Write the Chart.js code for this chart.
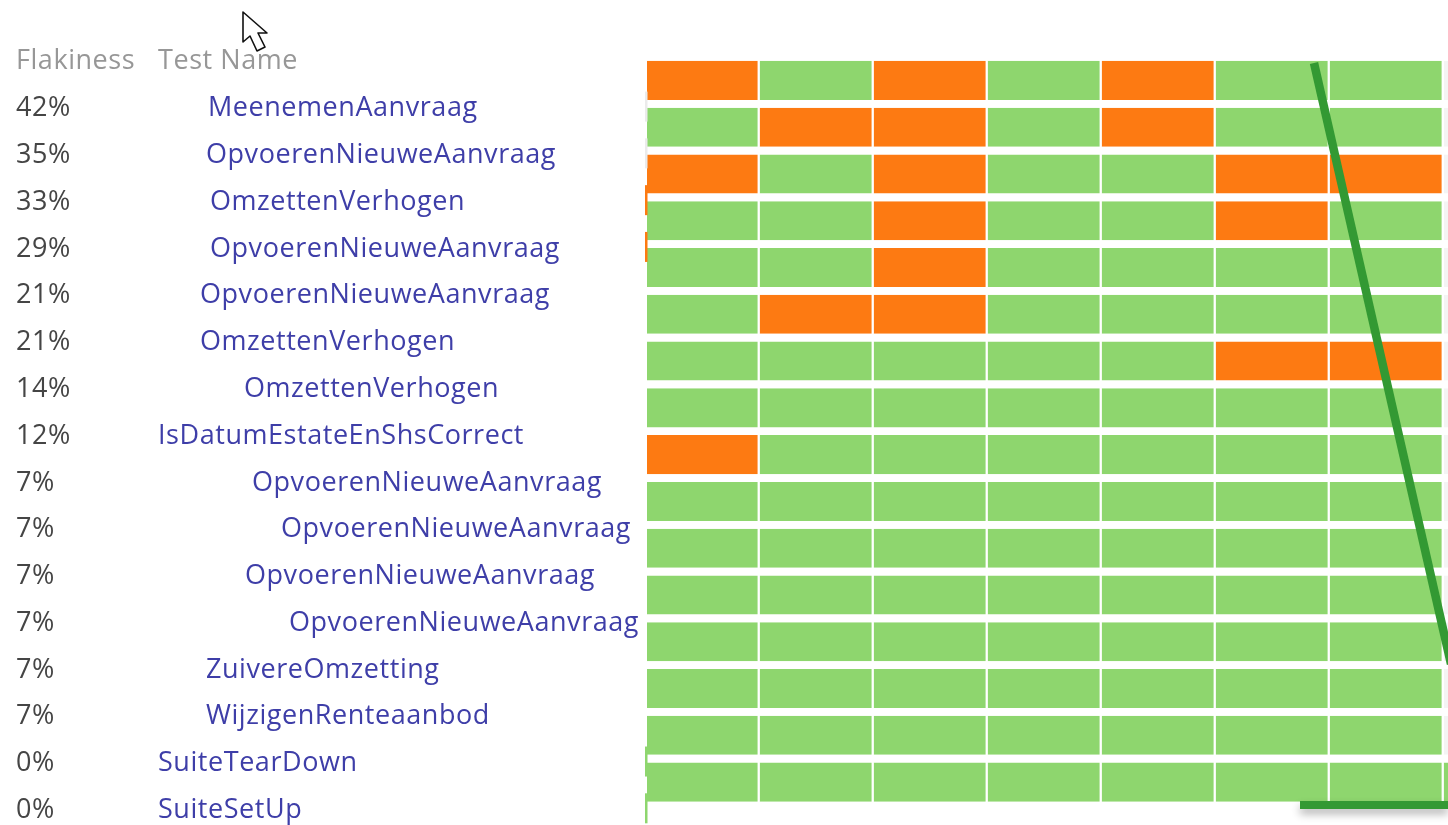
<!DOCTYPE html>
<html><head><meta charset="utf-8">
<style>html,body{margin:0;padding:0;background:#fff;overflow:hidden}#w{width:1448px;height:825px}canvas{filter:blur(.45px)}</style>
<script src="https://cdn.jsdelivr.net/npm/chart.js@4"></script></head><body><div id="w"><canvas id="c" width="1448" height="825"></canvas></div>
<script>
const flakiness=[42,35,33,29,21,21,14,12,7,7,7,7,7,7,0,0];
const testNames=["MeenemenAanvraag","OpvoerenNieuweAanvraag","OmzettenVerhogen","OpvoerenNieuweAanvraag","OpvoerenNieuweAanvraag","OmzettenVerhogen","OmzettenVerhogen","IsDatumEstateEnShsCorrect","OpvoerenNieuweAanvraag","OpvoerenNieuweAanvraag","OpvoerenNieuweAanvraag","OpvoerenNieuweAanvraag","ZuivereOmzetting","WijzigenRenteaanbod","SuiteTearDown","SuiteSetUp"];
// status per run: f = failed, p = passed, n = not run
const run1=["f","p","f","p","p","p","p","p","f","p","p","p","p","p","p","p"];
const run2=["p","f","p","p","p","f","p","p","p","p","p","p","p","p","p","p"];
const run3=["f","f","f","f","f","f","p","p","p","p","p","p","p","p","p","p"];
const run4=["p","p","p","p","p","p","p","p","p","p","p","p","p","p","p","p"];
const run5=["f","f","p","p","p","p","p","p","p","p","p","p","p","p","p","p"];
const run6=["p","p","f","f","p","p","f","p","p","p","p","p","p","p","p","p"];
const run7=["p","p","f","p","p","p","f","p","p","p","p","p","p","p","p","p"];
const run8=["n","n","n","n","n","n","n","n","n","n","n","n","n","n","n","p"];
const runs=[run1,run2,run3,run4,run5,run6,run7,run8];
const flakeMark=["n","n","f","f","","","","","","","","","","","p","p"];

const colours={f:"#FD7A12",p:"#8ED66E",n:"#F4F4F4"};
const nameX=[208,206,210,210,200,200,244,158,252,281,245,289,206,206,158,158];
const rowLabelShift=28.2;
const FONT='"Open Sans"';
const SPACING="0.55px";

const overlay={id:"overlay",
 beforeDraw(chart){chart.ctx.letterSpacing=SPACING;},
 afterDraw(chart){
  const ctx=chart.ctx,y=chart.scales.y;
  ctx.save();
  ctx.letterSpacing=SPACING;
  ctx.font='27px '+FONT;ctx.textBaseline="middle";ctx.textAlign="left";
  ctx.fillStyle="#979797";
  ctx.fillText("Flakiness",16,61);ctx.fillText("Test Name",158,61);
  ctx.fillStyle="#3E3EA8";
  testNames.forEach((n,i)=>ctx.fillText(n,nameX[i],y.getPixelForValue(i)+rowLabelShift));
  flakeMark.forEach((m,i)=>{if(!m)return;ctx.fillStyle=colours[m]==colours.n?"#EBEBEB":colours[m];
    ctx.fillRect(645,y.getPixelForValue(i)+rowLabelShift-17,2.5,30);});
  // hand-drawn annotation strokes on top of the screenshot
  ctx.strokeStyle="#339933";ctx.lineCap="butt";
  ctx.lineWidth=8.5;ctx.beginPath();ctx.moveTo(1314,63);ctx.lineTo(1451,664);ctx.stroke();
  ctx.save();ctx.shadowColor="rgba(0,0,0,.3)";ctx.shadowBlur=8;ctx.shadowOffsetY=5;
  ctx.fillStyle="#339933";ctx.fillRect(1300,801,148,8);ctx.restore();
  // mouse pointer
  ctx.fillStyle="#fff";ctx.strokeStyle="#111";ctx.lineWidth=1.6;ctx.lineJoin="round";
  ctx.beginPath();ctx.moveTo(243,12);ctx.lineTo(243,42);ctx.lineTo(250,36);ctx.lineTo(257,51);ctx.lineTo(265,47);ctx.lineTo(258,33);ctx.lineTo(267,33);ctx.closePath();ctx.fill();ctx.stroke();
  ctx.restore();
}};

new Chart(document.getElementById("c"),{
  type:"bar",
  data:{labels:testNames,datasets:runs.map((r,j)=>({
    label:"Run "+(j+1),
    data:r.map(()=>1),
    backgroundColor:r.map(s=>colours[s]),
    borderColor:"#ffffff",
    borderWidth:{right:2,left:0,top:0,bottom:0},
    borderSkipped:false,
    barPercentage:.835,categoryPercentage:1
  }))},
  options:{
    indexAxis:"y",responsive:false,animation:false,
    layout:{padding:{left:16,top:57,right:0,bottom:19.5}},
    plugins:{legend:{display:false},tooltip:{enabled:false}},
    scales:{
      x:{stacked:true,display:false,min:.0125,max:7.0385},
      y:{stacked:true,grid:{display:false},border:{display:false},
        afterFit(s){s.width=631},
        ticks:{crossAlign:"far",autoSkip:false,padding:0,labelOffset:rowLabelShift,color:"#454545",
          font:{family:"Open Sans",size:27},
          callback:(v,i)=>flakiness[i]+"%"}}
    }
  },
  plugins:[overlay]
});
</script></body></html>
